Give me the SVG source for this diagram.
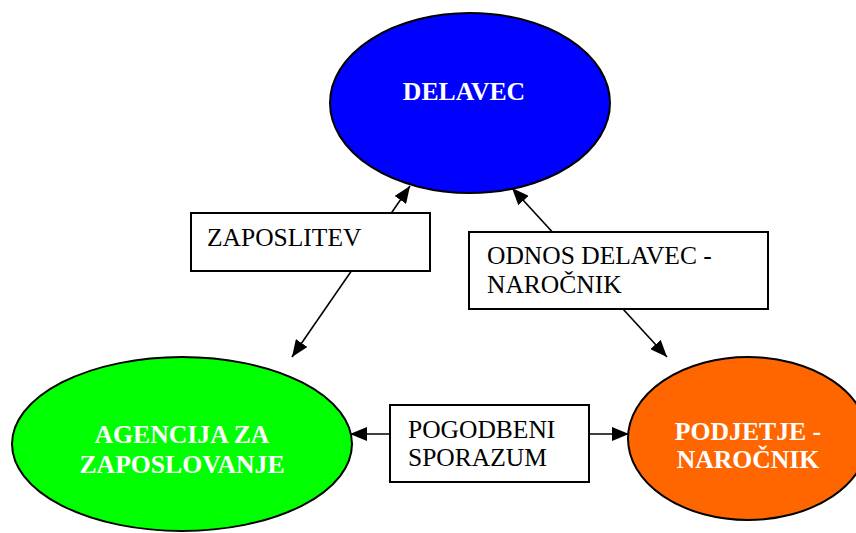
<svg xmlns="http://www.w3.org/2000/svg" width="856" height="533" viewBox="0 0 856 533">
<style>
.ell{stroke:#000;stroke-width:2}
.box{fill:#fff;stroke:#000;stroke-width:2}
.bt{font-family:"Liberation Serif","Times New Roman",serif;font-weight:bold;font-size:25.7px;fill:#fff;text-anchor:middle}
.lt{font-family:"Liberation Serif","Times New Roman",serif;font-size:25.5px;fill:#000}
.con{stroke:#000;stroke-width:1.6;fill:none;marker-start:url(#ah);marker-end:url(#ah)}
</style>
<defs>
<marker id="ah" markerUnits="userSpaceOnUse" markerWidth="18" markerHeight="14" refX="17" refY="7" orient="auto-start-reverse">
<path d="M0,0 L17,7 L0,14 z" fill="#000"/>
</marker>
</defs>
<rect width="856" height="533" fill="#fff"/>
<g id="delavec">
<ellipse class="ell" cx="470" cy="103" rx="140" ry="90" fill="#0000FF"/>
<text class="bt" x="464" y="100">DELAVEC</text>
</g>
<g id="agencija">
<ellipse class="ell" cx="182" cy="444" rx="170" ry="87" fill="#00FF00"/>
<text class="bt" x="182" y="443">AGENCIJA ZA</text>
<text class="bt" x="182" y="473">ZAPOSLOVANJE</text>
</g>
<g id="podjetje">
<ellipse class="ell" cx="748" cy="438.5" rx="120" ry="81.5" fill="#FF6600"/>
<text class="bt" x="748" y="440">PODJETJE -</text>
<text class="bt" x="748" y="468">NAROČNIK</text>
</g>
<g id="connectors">
<line class="con" x1="292" y1="357" x2="410" y2="186"/>
<line class="con" x1="512" y1="188" x2="667" y2="357"/>
<line class="con" x1="350" y1="434" x2="629" y2="434"/>
</g>
<g id="zaposlitev">
<rect class="box" x="191" y="213" width="239" height="58"/>
<text class="lt" x="207" y="246">ZAPOSLITEV</text>
</g>
<g id="odnos">
<rect class="box" x="469" y="232" width="299" height="77"/>
<text class="lt" x="487" y="264">ODNOS DELAVEC -</text>
<text class="lt" x="487" y="293">NAROČNIK</text>
</g>
<g id="pogodbeni">
<rect class="box" x="390" y="405" width="199" height="77"/>
<text class="lt" x="408" y="438">POGODBENI</text>
<text class="lt" x="408" y="466">SPORAZUM</text>
</g>
</svg>
